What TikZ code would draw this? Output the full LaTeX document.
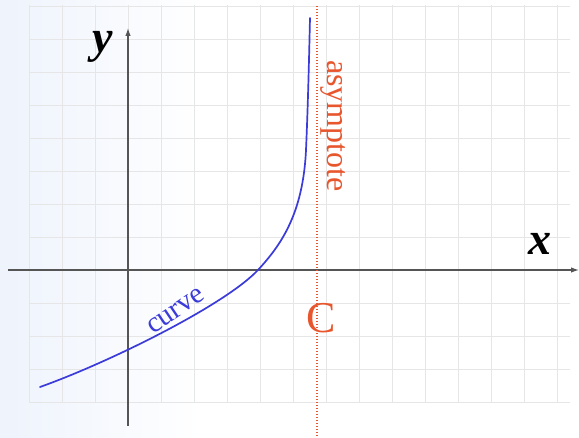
\documentclass[tikz,border=0pt]{standalone}
\usepackage{fontspec}
\setmainfont{Liberation Serif}
\usetikzlibrary{arrows.meta}
\definecolor{gridc}{HTML}{E6E6E6}
\definecolor{axisc}{HTML}{555555}
\definecolor{asyc}{HTML}{E8562E}
\definecolor{curvec}{HTML}{3B3BD9}
\definecolor{bgblue}{HTML}{EEF3FC}
\tikzset{
  axisline/.style={draw=axisc, line width=1.2pt, -{Latex[length=8pt,width=5.5pt]}},
  gridline/.style={draw=gridc, line width=0.6pt},
  asyline/.style={draw=asyc, line width=1.4pt, dash pattern=on 1.4pt off 1.6pt},
  curveline/.style={draw=curvec, line width=1.7pt, line cap=round},
  axislabel/.style={font=\fontsize{46}{46}\selectfont\bfseries\itshape, text=black, inner sep=0pt},
}
\begin{document}
\begin{tikzpicture}[x=1pt,y=-1pt]
\useasboundingbox (0,0) rectangle (579,438);
\shade[left color=bgblue, right color=white] (0,0) rectangle (200,438);
\fill[white] (200,0) rectangle (579,438);
% grid
\foreach \gx in {29,62,95,128,161,194,227,260,293,326,359,392,425,458,491,524,557}
  \draw[gridline] (\gx,5) -- (\gx,403);
\foreach \gy in {6,39,72,105,138,171,204,237,270,303,336,369,402}
  \draw[gridline] (29,\gy) -- (570,\gy);
% axes
\coordinate (xs) at (8,270);
\coordinate (xe) at (579,270);
\coordinate (ys) at (128,426);
\coordinate (ye) at (128,28);
\draw[axisline] (xs) -- (xe);
\draw[axisline] (ys) -- (ye);
% asymptote
\coordinate (as) at (317,6);
\coordinate (ae) at (317,436);
\draw[asyline] (as) -- (ae);
% curve
\draw[curveline] (40,387) .. controls (110,362) and (225,305) .. (258,270)
  .. controls (280,246) and (303,215) .. (306,150)
  .. controls (308,105) and (309,60) .. (310,18);
% labels
\node[axislabel] (ylab) at (103,47) {y};
\node[axislabel] (xlab) at (540,244) {x};
\node[text=asyc, font=\fontsize{32}{32}\selectfont, rotate=-90, inner sep=0pt] (asylab) at (333,126) {asymptote};
\node[text=asyc, font=\fontsize{44}{44}\selectfont, inner sep=0pt] (clab) at (321,318) {C};
\node[text=curvec, font=\fontsize{29}{29}\selectfont, rotate=34, inner sep=0pt] (curvelab) at (176,311) {curve};
\end{tikzpicture}
\end{document}
